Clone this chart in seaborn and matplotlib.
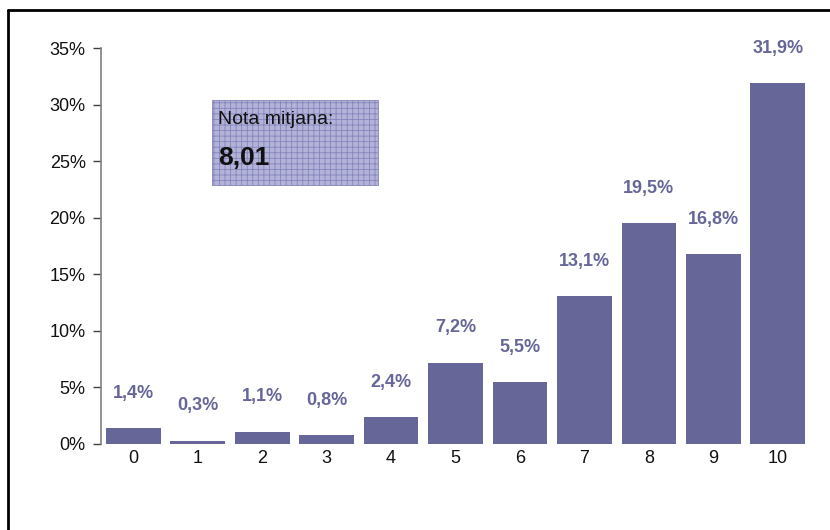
import matplotlib
matplotlib.use('Agg')
import matplotlib.pyplot as plt
import seaborn as sns
import pandas as pd
from matplotlib.patches import Rectangle
from matplotlib.lines import Line2D

notes = ['0', '1', '2', '3', '4', '5', '6', '7', '8', '9', '10']
shares = [1.4, 0.3, 1.1, 0.8, 2.4, 7.2, 5.5, 13.1, 19.5, 16.8, 31.9]
share_labels = ['1,4%', '0,3%', '1,1%', '0,8%', '2,4%', '7,2%', '5,5%',
                '13,1%', '19,5%', '16,8%', '31,9%']
y_ticks = [0, 5, 10, 15, 20, 25, 30, 35]
mean_title = 'Nota mitjana:'
mean_value = '8,01'

bar_color = '#666699'

sns.set_style('white')
plt.rcParams['font.family'] = ['Liberation Sans', 'DejaVu Sans']
plt.rcParams['hatch.linewidth'] = 0.6

df = pd.DataFrame({'nota': notes, 'share': shares})

fig = plt.figure(figsize=(8.3, 5.3), dpi=100)
ax = fig.add_axes([0.1217, 0.1623, 0.976 - 0.1217, 0.9094 - 0.1623])

sns.barplot(data=df, x='nota', y='share', color=bar_color, saturation=1,
            width=0.85, linewidth=0, ax=ax)

for i, (v, lab) in enumerate(zip(shares, share_labels)):
    ax.annotate(lab, (i, v), xytext=(0, 25), textcoords='offset points',
                ha='center', va='center', fontsize=13, fontweight='bold',
                color=bar_color)

ax.set_xlim(-0.5, 10.5)
ax.set_ylim(0, 35)
ax.set_yticks(y_ticks)
ax.set_yticklabels([f'{t}%' for t in y_ticks])
ax.set_xlabel('')
ax.set_ylabel('')

for s in ['top', 'right', 'bottom']:
    ax.spines[s].set_visible(False)
ax.spines['left'].set_color('#808080')
ax.spines['left'].set_linewidth(1.2)
ax.tick_params(axis='y', left=True, length=6, width=1, color='#404040',
               labelsize=13, pad=5, labelcolor='#111111')
ax.tick_params(axis='x', bottom=False, labelsize=13, pad=1,
               labelcolor='#111111')

# average note box
box = Rectangle((212 / 830, 1 - 185 / 530), 166 / 830, 85 / 530,
                transform=fig.transFigure, facecolor='#b3b3d9',
                edgecolor='#8585bb', linewidth=0.6, hatch='+++', zorder=3)
fig.patches.append(box)
fig.text(218 / 830, 1 - 119 / 530, mean_title, fontsize=14,
         va='center', ha='left', color='#111111', zorder=4)
fig.text(218 / 830, 1 - 158 / 530, mean_value, fontsize=19,
         fontweight='bold', va='center', ha='left', color='#111111', zorder=4)

# outer frame (top and left visible)
fig.add_artist(Line2D([8 / 830, 8 / 830], [0, 1 - 10 / 530],
                      transform=fig.transFigure, color='black', linewidth=2))
fig.add_artist(Line2D([8 / 830, 1], [1 - 10 / 530, 1 - 10 / 530],
                      transform=fig.transFigure, color='black', linewidth=2))

plt.savefig('out.png', dpi=100)
